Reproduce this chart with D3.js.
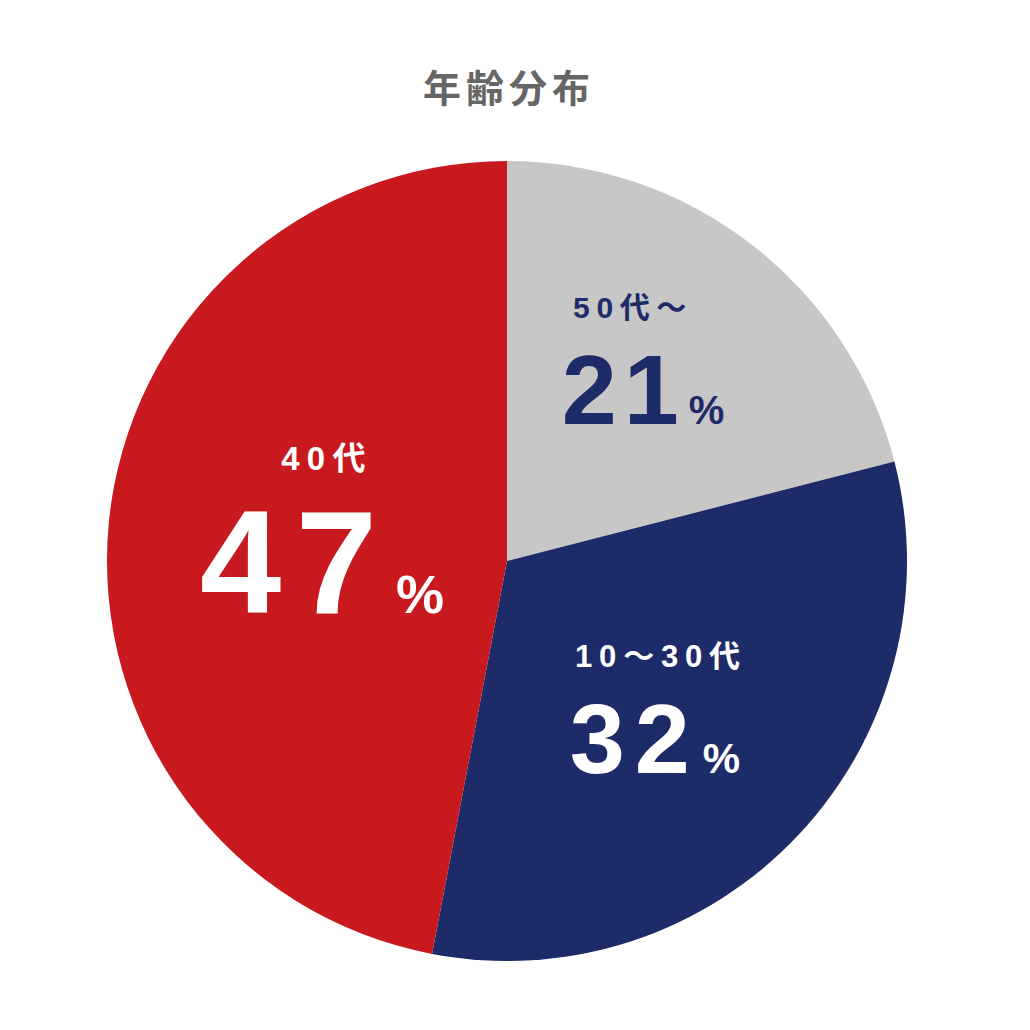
<!DOCTYPE html>
<html lang="ja">
<head>
<meta charset="utf-8">
<script src="https://cdn.jsdelivr.net/npm/d3@7"></script>
<style>
  html, body { margin: 0; padding: 0; background: #fff; }
  svg { display: block; }
  text { font-family: "Liberation Sans", "Noto Sans CJK JP", sans-serif; font-weight: 700; }
  .title { font-family: "Noto Sans CJK JP", sans-serif; }
</style>
</head>
<body>
<svg id="chart" width="1030" height="1030"></svg>
<script>
// 年齢分布 — three-slice pie, drawn clockwise from 12 o'clock.
const TITLE = "年齢分布";
const categories = ["50代〜", "10〜30代", "40代"];
const shares = [21, 32, 47];
const colors = ["#c7c7c7", "#1e2b69", "#c8191e"];
const textColors = ["#1e2b69", "#ffffff", "#ffffff"];

// layout (not data): label block centre and type sizes per slice
const W = 1030, H = 1030, CX = 507, CY = 561, R = 400;
const labelX = [[633, 643], [661, 655], [327, 322]];   // x centre: category, number
const labelY = [[318, 424], [667, 773], [470, 613]];   // baselines: category, number
const catSize = [30, 31, 33], numSize = [99, 99, 146], pctSize = [40, 42, 54];
const numSpacing = [0.07, 0.1, 0.1];

const svg = d3.select("#chart");

svg.append("text")
  .attr("class", "title")
  .attr("x", W / 2 - 6).attr("y", 102)
  .attr("text-anchor", "middle")
  .attr("fill", "#666666")
  .attr("font-size", 38)
  .attr("letter-spacing", 5)
  .text(TITLE);

const pie = d3.pie().sort(null).value((d) => d)(shares);
const arc = d3.arc().innerRadius(0).outerRadius(R);

const g = svg.append("g").attr("transform", `translate(${CX},${CY})`);
g.selectAll("path").data(pie).enter().append("path")
  .attr("d", arc)
  .attr("fill", (d, i) => colors[i]);

const lab = svg.selectAll(".lab").data(pie).enter().append("g").attr("class", "lab")
  .attr("fill", (d, i) => textColors[i]);

lab.append("text")
  .attr("x", (d, i) => labelX[i][0])
  .attr("y", (d, i) => labelY[i][0])
  .attr("text-anchor", "middle")
  .attr("font-size", (d, i) => catSize[i])
  .attr("letter-spacing", (d, i) => catSize[i] * 0.22)
  .text((d, i) => categories[i]);

// the share with a small %
const num = lab.append("text")
  .attr("x", (d, i) => labelX[i][1])
  .attr("y", (d, i) => labelY[i][1])
  .attr("text-anchor", "middle");
num.append("tspan")
  .attr("font-size", (d, i) => numSize[i])
  .attr("letter-spacing", (d, i) => numSize[i] * numSpacing[i])
  .text((d) => d.data);
num.append("tspan")
  .attr("dx", (d, i) => numSize[i] * 0.03)
  .attr("font-size", (d, i) => pctSize[i])
  .text("%");
</script>
</body>
</html>
